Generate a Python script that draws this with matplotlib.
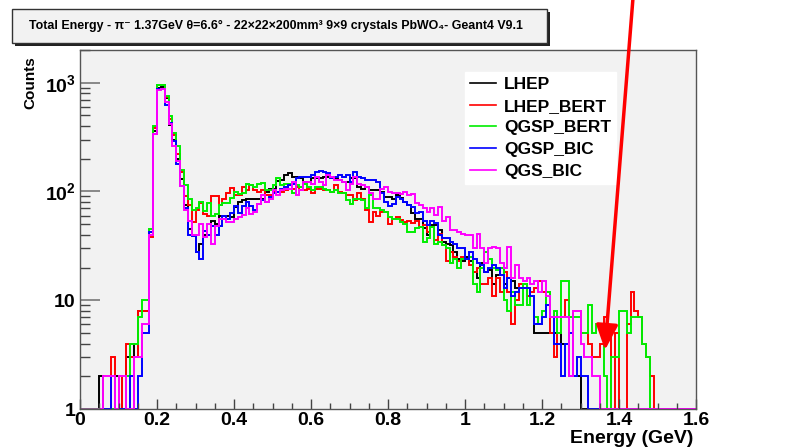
import numpy as np
import matplotlib
matplotlib.use("Agg")
import matplotlib.pyplot as plt
from matplotlib.patches import Rectangle, FancyArrowPatch
from matplotlib.ticker import FixedLocator, MultipleLocator, LogLocator, NullFormatter

plt.rcParams['font.family'] = ['Liberation Sans', 'DejaVu Sans']
plt.rcParams['font.weight'] = 'bold'
plt.rcParams['mathtext.fontset'] = 'custom'
plt.rcParams['mathtext.bf'] = 'Liberation Sans:bold'
plt.rcParams['mathtext.rm'] = 'Liberation Sans:bold'
plt.rcParams['mathtext.default'] = 'bf'

# histogram binning: 160 bins of 0.01 GeV
bin_edges = np.linspace(0.0, 1.6, 161)

# counts per bin (bins 0..159)
lhep = [0, 0, 0, 0, 0, 2, 0, 0, 0, 2,
        2, 0, 3, 4, 3, 8, 8, 8, 42, 360,
        900, 920, 720, 410, 300, 200, 130, 75, 45, 40,
        28, 33, 40, 40, 54, 50, 60, 60, 60, 58,
        72, 80, 83, 85, 85, 86, 86, 86, 99, 106,
        106, 125, 128, 142, 147, 137, 137, 132, 123, 123,
        132, 132, 132, 137, 137, 132, 132, 128, 123, 123,
        132, 132, 110, 106, 110, 103, 103, 103, 99, 89,
        89, 86, 92, 88, 80, 75, 63, 56, 56, 46,
        40, 49, 49, 44, 34, 33, 32, 28, 24, 23,
        25, 23, 18, 16, 22, 18, 19, 14, 17, 20,
        14, 16, 15, 13, 13, 14, 13, 11, 5, 5,
        5, 5, 5, 5, 5, 4, 4, 2, 2, 2,
        0, 0, 0, 0, 0, 0, 0, 0, 0, 0,
        0, 0, 0, 0, 0, 0, 0, 0, 0, 0,
        0, 0, 0, 0, 0, 0, 0, 0, 0, 0]

lhep_bert = [0, 0, 0, 0, 0, 0, 0, 0, 3, 0,
             2, 0, 4, 3, 3, 8, 8, 8, 38, 380,
             950, 960, 740, 460, 330, 220, 150, 91, 75, 52,
             67, 78, 62, 60, 90, 90, 75, 85, 96, 107,
             92, 92, 110, 104, 115, 103, 99, 103, 92, 92,
             99, 99, 99, 103, 114, 106, 110, 103, 103, 106,
             96, 106, 106, 103, 103, 99, 114, 99, 96, 92,
             92, 83, 96, 86, 67, 52, 65, 60, 65, 65,
             50, 56, 58, 55, 52, 54, 51, 54, 47, 49,
             42, 47, 36, 41, 32, 23, 28, 25, 23, 25,
             24, 21, 18, 20, 14, 14, 16, 11, 16, 12,
             18, 12, 6, 10, 14, 13, 11, 12, 13, 15,
             12, 12, 5, 3, 5, 7, 10, 7, 8, 8,
             5, 5, 4, 3, 3, 4, 7, 5, 0, 5,
             0, 0, 6, 12, 8, 7, 4, 3, 2, 0,
             0, 0, 0, 0, 0, 0, 0, 0, 0, 0]

qgsp_bert = [0, 0, 0, 0, 0, 0, 0, 0, 0, 0,
             0, 0, 2, 4, 4, 7, 10, 10, 45, 400,
             950, 960, 760, 490, 345, 260, 156, 114, 86, 67,
             70, 80, 66, 78, 60, 62, 75, 78, 78, 88,
             99, 95, 97, 118, 115, 110, 118, 120, 103, 103,
             114, 132, 114, 118, 118, 96, 114, 110, 118, 110,
             103, 110, 110, 106, 103, 99, 103, 96, 96, 84,
             77, 86, 86, 83, 70, 92, 70, 70, 67, 65,
             58, 56, 56, 52, 50, 42, 42, 46, 47, 34,
             37, 47, 33, 34, 32, 30, 22, 24, 20, 24,
             24, 25, 14, 12, 20, 28, 24, 20, 19, 20,
             10, 8, 12, 9, 9, 14, 9, 11, 7, 6,
             8, 12, 7, 8, 5, 15, 15, 7, 7, 7,
             5, 5, 9, 5, 6, 6, 2, 0, 3, 3,
             8, 8, 5, 7, 7, 7, 4, 3, 0, 0,
             0, 0, 0, 0, 0, 0, 0, 0, 0, 0]

qgsp_bic = [0, 0, 0, 0, 0, 0, 0, 0, 2, 0,
            0, 0, 0, 2, 0, 2, 5, 5, 42, 340,
            870, 880, 620, 430, 290, 178, 112, 70, 40, 39,
            28, 24, 43, 40, 48, 40, 48, 60, 56, 63,
            74, 63, 74, 80, 74, 68, 77, 83, 80, 89,
            96, 99, 106, 110, 114, 118, 132, 137, 137, 137,
            142, 152, 155, 152, 147, 132, 137, 142, 137, 142,
            123, 152, 137, 132, 128, 128, 128, 123, 96, 80,
            74, 77, 89, 85, 80, 75, 72, 63, 65, 54,
            49, 54, 51, 40, 37, 37, 34, 33, 30, 30,
            24, 28, 24, 22, 21, 18, 20, 21, 20, 17,
            13, 16, 11, 12, 13, 13, 13, 11, 6, 6,
            7, 9, 7, 4, 4, 2, 4, 5, 2, 3,
            2, 2, 0, 0, 0, 0, 0, 0, 0, 0,
            0, 0, 0, 0, 0, 0, 0, 0, 0, 0,
            0, 0, 0, 0, 0, 0, 0, 0, 0, 0]

qgs_bic = [0, 0, 0, 0, 0, 0, 2, 2, 2, 0,
           2, 2, 0, 0, 3, 3, 6, 6, 40, 340,
           850, 880, 660, 420, 260, 190, 112, 67, 53, 40,
           40, 50, 38, 50, 33, 48, 56, 56, 52, 52,
           56, 58, 61, 70, 62, 65, 77, 92, 80, 86,
           103, 92, 103, 106, 106, 123, 92, 103, 123, 123,
           118, 137, 123, 114, 142, 137, 128, 128, 123, 103,
           118, 137, 118, 114, 110, 96, 86, 86, 106, 110,
           99, 96, 96, 95, 99, 92, 95, 79, 75, 70,
           65, 70, 61, 72, 54, 58, 44, 44, 42, 41,
           40, 40, 30, 41, 30, 22, 30, 31, 30, 22,
           20, 31, 16, 21, 16, 15, 16, 14, 15, 12,
           15, 11, 7, 7, 7, 7, 7, 2, 8, 8,
           4, 3, 3, 2, 2, 0, 0, 0, 0, 0,
           0, 0, 0, 0, 0, 0, 0, 0, 0, 0,
           0, 0, 0, 0, 0, 0, 0, 0, 0, 0]

labels = ['LHEP', 'LHEP_BERT', 'QGSP_BERT', 'QGSP_BIC', 'QGS_BIC']
colors = ['black', '#ff0000', '#00ee00', '#0000ff', '#ff00ff']
series = [lhep, lhep_bert, qgsp_bert, qgsp_bic, qgs_bic]

xticks = [0, 0.2, 0.4, 0.6, 0.8, 1.0, 1.2, 1.4, 1.6]
xticklabels = ['0', '0.2', '0.4', '0.6', '0.8', '1', '1.2', '1.4', '1.6']
yticks = [1, 10, 100, 1000]
yticklabels = ['1', '10', r'$10^{2}$', r'$10^{3}$']

W, H = 789, 447
fig = plt.figure(figsize=(W / 100, H / 100), dpi=100)
ax = fig.add_axes([80 / W, 1 - 409 / H, 616 / W, 359 / H])
ax.set_facecolor('#f2f2f2')

for vals, col, lab in zip(series, colors, labels):
    # empty bins drop to the bottom of the log axis, as in ROOT
    ax.stairs(np.maximum(np.array(vals, dtype=float), 1.0), bin_edges,
              color=col, lw=1.4, label=lab, baseline=None)

ax.set_yscale('log')
ax.set_xlim(0, 1.6)
ax.set_ylim(1, 2000)

ax.xaxis.set_major_locator(FixedLocator(xticks))
ax.set_xticklabels(xticklabels)
ax.xaxis.set_minor_locator(MultipleLocator(0.05))
ax.yaxis.set_major_locator(FixedLocator(yticks))
ax.set_yticklabels(yticklabels)
ax.yaxis.set_minor_locator(LogLocator(base=10, subs=np.arange(2, 10)))
ax.yaxis.set_minor_formatter(NullFormatter())

ax.tick_params(axis='x', which='major', direction='in', length=7.5, width=1,
               color='#444444', labelsize=14, pad=2)
ax.tick_params(axis='x', which='minor', direction='in', length=4, width=1,
               color='#444444')
ax.tick_params(axis='y', which='major', direction='in', length=14.5, width=1.2,
               color='#777777', labelsize=14, pad=3)
ax.tick_params(axis='y', which='minor', direction='in', length=7, width=1,
               color='#444444')
for lbl in ax.get_xticklabels() + ax.get_yticklabels():
    lbl.set_fontweight('bold')
for sp in ax.spines.values():
    sp.set_color('#555555')
    sp.set_linewidth(1)

leg = ax.legend(loc='upper left', bbox_to_anchor=(0.625, 0.94), borderaxespad=0,
                frameon=True, fancybox=False, facecolor='white', edgecolor='white',
                framealpha=1, prop={'weight': 'bold', 'size': 12.5},
                handlelength=1.5, handletextpad=0.45, labelspacing=0.38,
                borderpad=0.3)
for h in leg.get_lines():
    h.set_linewidth(1.2)

fig.text(30 / W, 1 - 56 / H, 'Counts', rotation=90, ha='center', va='top',
         fontsize=11, fontweight='bold')
fig.text(693 / W, 1 - 443 / H, 'Energy (GeV)', ha='right', va='baseline',
         fontsize=14, fontweight='bold')

# title pave with shadow
fig.patches.append(Rectangle((15 / W, 1 - 46 / H), 535 / W, 34 / H,
                             transform=fig.transFigure, facecolor='#222222',
                             edgecolor='none', zorder=1))
fig.patches.append(Rectangle((12 / W, 1 - 43 / H), 535 / W, 34 / H,
                             transform=fig.transFigure, facecolor='#f2f2f2',
                             edgecolor='#333333', lw=1, zorder=2))
fig.text(276 / W, 1 - 26 / H,
         'Total Energy - \u03c0\u207b 1.37GeV \u03b8=6.6\u00b0 - 22\u00d722\u00d7200mm\u00b3 '
         '9\u00d79 crystals PbWO\u2084- Geant4 V9.1',
         ha='center', va='center', fontsize=8.9, fontweight='bold', zorder=3)

# red arrow pointing at the beam energy
fig.add_artist(FancyArrowPatch(
    (633, H + 2), (605, H - 350), transform=None,
    arrowstyle='-|>,head_length=0.8,head_width=0.35', mutation_scale=19,
    color='#ff0000', lw=2.5, shrinkA=0, shrinkB=0))

fig.savefig('out.png', dpi=100)
